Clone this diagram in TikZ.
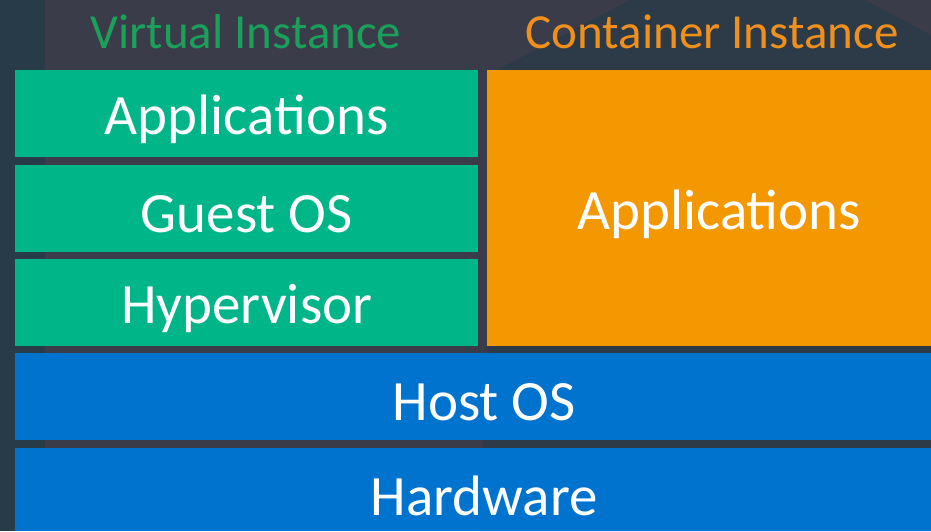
\documentclass[tikz,border=0pt]{standalone}
\usepackage{fontspec}
\setmainfont{Carlito}
\definecolor{bg}{HTML}{3A3C4A}
\definecolor{bgleft}{HTML}{273B48}
\definecolor{bgdark}{HTML}{2D3A48}
\definecolor{grn}{HTML}{00B588}
\definecolor{org}{HTML}{F39800}
\definecolor{blu}{HTML}{0073CF}
\definecolor{tgrn}{HTML}{1BA05C}
\definecolor{torg}{HTML}{F0901C}
\begin{document}
\begin{tikzpicture}[x=1pt,y=-1pt,
  layer/.style={draw=none,inner sep=0pt,anchor=north west},
  label/.style={text=white,font=\fontsize{57}{57}\selectfont},
  title/.style={inner sep=0pt,font=\fontsize{49}{49}\selectfont}]
\useasboundingbox (0,0) rectangle (931,531);
\clip (0,0) rectangle (931,531);
\fill[bg] (0,0) rectangle (931,531);
\fill[bgdark] (497,70) -- (630,0) -- (865,0) -- (931,35) -- (931,531) -- (480,531) -- cycle;
\fill[bgleft] (0,0) rectangle (45,531);
\node[layer,fill=grn,minimum width=463pt,minimum height=87pt] (app) at (15,70) {};
\node[label] (appt) at ([yshift=-6pt]app.center) {Applications};
\node[layer,fill=grn,minimum width=463pt,minimum height=87pt] (guest) at (15,165) {};
\node[label] (guestt) at ([yshift=-6pt]guest.center) {Guest OS};
\node[layer,fill=grn,minimum width=463pt,minimum height=87pt] (hyp) at (15,259) {};
\node[label] (hypt) at ([yshift=-6pt]hyp.center) {Hypervisor};
\node[layer,fill=org,minimum width=464pt,minimum height=276pt] (capp) at (487,70) {};
\node[label] (cappt) at ([yshift=-6pt]capp.center) {Applications};
\node[layer,fill=blu,minimum width=938pt,minimum height=87pt] (host) at (15,353) {};
\node[label] (hostt) at ([yshift=-6pt]host.center) {Host OS};
\node[layer,fill=blu,minimum width=938pt,minimum height=83pt] (hw) at (15,448) {};
\node[label] (hwt) at ([yshift=-6pt]hw.center) {Hardware};
\node[title,text=tgrn] (vt) at (246,32) {Virtual Instance};
\node[title,text=torg] (ct) at (712,32) {Container Instance};
\end{tikzpicture}
\end{document}
